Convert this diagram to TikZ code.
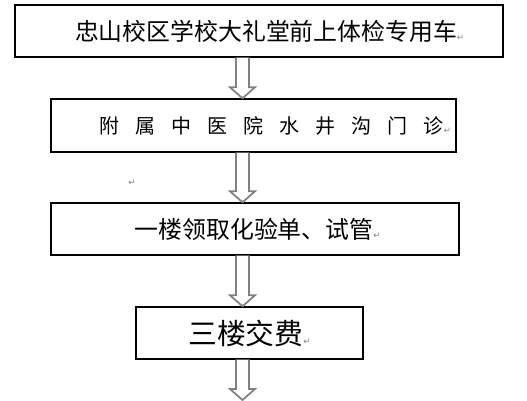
\documentclass[tikz,border=0pt]{standalone}
\usepackage{fontspec}
\setmainfont{Noto Sans CJK SC}
\newfontfamily\dejavu{DejaVu Sans}
\usetikzlibrary{calc}
\newcommand{\pmark}{{\dejavu\fontsize{6.5}{7}\selectfont\textcolor{gray}{↵}}}
\newcommand{\wsp}{\hspace{12pt}}
\newcommand{\hollowdown}[2]{%
    \draw[hollow] ($(#1.south -| ax)+(-6.5,0)$) -- ($(#2 -| ax)+(-6.5,-11)$)
        -- ($(#2 -| ax)+(-12.5,-11)$) -- (#2 -| ax) -- ($(#2 -| ax)+(12.5,-11)$)
        -- ($(#2 -| ax)+(6.5,-11)$) -- ($(#1.south -| ax)+(6.5,0)$);}

\begin{document}
\begin{tikzpicture}[
        x=0.75pt, y=-0.75pt,
        box/.style={rectangle, draw, line width=1.1pt, inner sep=0pt, minimum height=39pt},
        hollow/.style={draw=gray, line width=1.3pt, fill=white, line join=miter}
    ]
        \useasboundingbox (0,0) rectangle (527,400);
        \coordinate (ax) at (242.5,0);
        \coordinate (end) at (242.5,400);

        % 流程框
        \node[box, minimum width=366pt, font=\fontsize{17.9}{20}\selectfont] (car) at (259,31)
            {\hspace*{16pt}忠山校区学校大礼堂前上体检专用车\pmark};
        \node[box, minimum width=303.75pt, minimum height=39.75pt, font=\fontsize{15}{18}\selectfont] (clinic) at (253.5,125.5)
            {\hspace*{33pt}附\wsp 属\wsp 中\wsp 医\wsp 院\wsp 水\wsp 井\wsp 沟\wsp 门\wsp 诊\pmark};
        \node[inner sep=0pt] (mark) at (132,183) {\pmark};
        \node[box, minimum width=306pt, font=\fontsize{17.9}{20}\selectfont] (lab) at (255,229)
            {\hspace*{4pt}一楼领取化验单、试管\pmark};
        \node[box, minimum width=170.25pt, font=\fontsize{21.6}{24}\selectfont] (fee) at (249.5,333)
            {三楼交费\pmark};

        % 空心箭头
        \hollowdown{car}{clinic.north}
        \hollowdown{clinic}{lab.north}
        \hollowdown{lab}{fee.north}
        \hollowdown{fee}{end}
    \end{tikzpicture}
\end{document}
